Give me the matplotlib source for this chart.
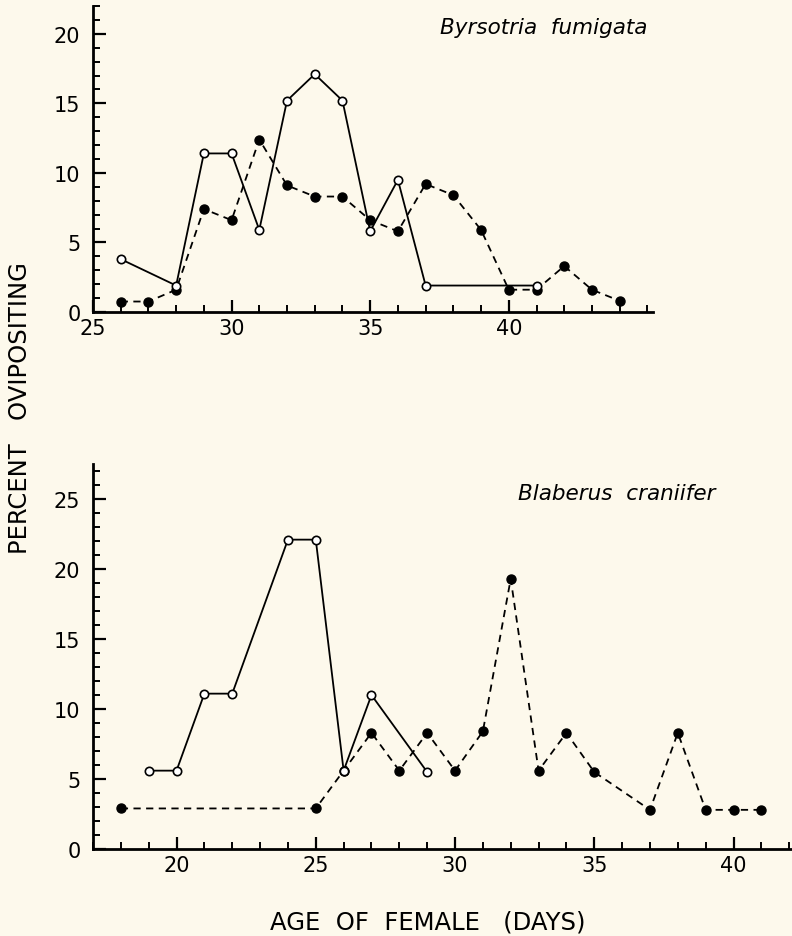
import numpy as np
import matplotlib.pyplot as plt
from matplotlib.ticker import MultipleLocator

# Byrsotria fumigata
byr_open_x = [26, 28, 29, 30, 31, 32, 33, 34, 35, 36, 37, 41]
byr_open_y = [3.8, 1.9, 11.4, 11.4, 5.9, 15.2, 17.1, 15.2, 5.8, 9.5, 1.9, 1.9]
byr_fill_x = [26, 27, 28, 29, 30, 31, 32, 33, 34, 35, 36, 37, 38, 39, 40, 41, 42, 43, 44]
byr_fill_y = [0.75, 0.75, 1.6, 7.4, 6.6, 12.4, 9.1, 8.3, 8.3, 6.6, 5.8, 9.2, 8.4, 5.9,
              1.6, 1.6, 3.3, 1.6, 0.8]
byr_xticks = [25, 30, 35, 40]

# Blaberus craniifer
bla_open_x = [19, 20, 21, 22, 24, 25, 26, 27, 29]
bla_open_y = [5.6, 5.6, 11.1, 11.1, 22.1, 22.1, 5.6, 11.0, 5.5]
bla_fill_x = [18, 25, 26, 27, 28, 29, 30, 31, 32, 33, 34, 35, 37, 38, 39, 40, 41]
bla_fill_y = [2.9, 2.9, 5.6, 8.3, 5.6, 8.3, 5.6, 8.4, 19.3, 5.6, 8.3, 5.5, 2.8, 8.3,
              2.8, 2.8, 2.8]
bla_xticks = [20, 25, 30, 35, 40]

bg = '#fdf9ec'
fig = plt.figure(figsize=(7.92, 9.37), dpi=100, facecolor=bg)
ax1 = fig.add_axes([0.1174, 0.666, 0.707, 0.3265])
ax2 = fig.add_axes([0.1174, 0.0928, 0.8826, 0.4109])


def style(ax, xmin, xmax, ymax, xticks):
    ax.set_facecolor(bg)
    ax.set_xlim(xmin, xmax)
    ax.set_ylim(0, ymax)
    for s in ['top', 'right']:
        ax.spines[s].set_visible(False)
    for s in ['left', 'bottom']:
        ax.spines[s].set_linewidth(2)
    ax.set_xticks(xticks)
    ax.xaxis.set_minor_locator(MultipleLocator(1))
    ax.yaxis.set_major_locator(MultipleLocator(5))
    ax.yaxis.set_minor_locator(MultipleLocator(1))
    ax.tick_params(which='major', direction='in', length=9, width=1.6,
                   labelsize=15, pad=4)
    ax.tick_params(which='minor', direction='in', length=5, width=1.4)
    ax.tick_params(axis='y', pad=9)


def draw(ax, ox, oy, fx, fy):
    ax.plot(fx, fy, color='k', lw=1.3, dashes=(4, 3), marker='o', ms=6.5,
            mfc='k', mec='k', zorder=3, clip_on=False)
    ax.plot(ox, oy, color='k', lw=1.3, marker='o', ms=6, mfc='white',
            mec='k', mew=1.2, zorder=4, clip_on=False)


style(ax1, 25, 45.2, 22, byr_xticks)
draw(ax1, byr_open_x, byr_open_y, byr_fill_x, byr_fill_y)
ax1.text(0.805, 0.93, 'Byrsotria  fumigata', transform=ax1.transAxes,
         fontsize=15.5, style='italic', ha='center', va='center')

style(ax2, 17, 42.1, 27.5, bla_xticks)
draw(ax2, bla_open_x, bla_open_y, bla_fill_x, bla_fill_y)
ax2.text(0.75, 0.925, 'Blaberus  craniifer', transform=ax2.transAxes,
         fontsize=15.5, style='italic', ha='center', va='center')

fig.text(0.025, 0.565, 'PERCENT   OVIPOSITING', rotation=90, fontsize=17.5,
         ha='center', va='center')
fig.text(0.54, 0.016, 'AGE  OF  FEMALE   (DAYS)', fontsize=17.5,
         ha='center', va='center')

fig.savefig('out.png', dpi=100, facecolor=bg)
